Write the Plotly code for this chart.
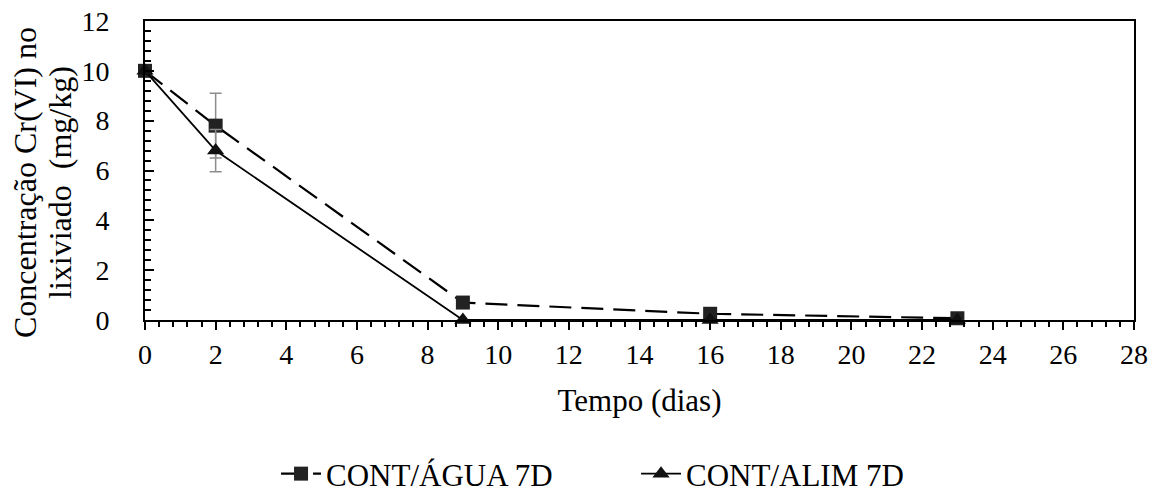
import plotly.graph_objects as go

days = [0, 2, 9, 16, 23]
agua = [10, 7.8, 0.7, 0.25, 0.07]
agua_err_plus = [0, 1.3, 0, 0, 0]
agua_err_minus = [0, 1.3, 0, 0, 0]
alim = [10, 6.8, 0, 0, 0]
alim_err_plus = [0, 0.85, 0, 0, 0]
alim_err_minus = [0, 0.85, 0, 0, 0]

FONT = "Times New Roman, Liberation Serif, serif"
TICK_FS = 28
TITLE_FS = 31

fig = go.Figure()
fig.add_trace(go.Scatter(
    x=days, y=agua, name="CONT/ÁGUA 7D", mode="lines+markers",
    line=dict(color="black", width=2.2, dash="22px,10px"),
    marker=dict(symbol="square", size=14, color="#222222"),
    error_y=dict(type="data", symmetric=False, array=agua_err_plus, arrayminus=agua_err_minus,
                 color="#8c8c8c", thickness=1.5, width=6),
    cliponaxis=False, legend="legend",
))
fig.add_trace(go.Scatter(
    x=days, y=alim, name="CONT/ALIM 7D", mode="lines+markers",
    line=dict(color="black", width=1.8),
    marker=dict(symbol="triangle-up", size=15, color="#111111"),
    error_y=dict(type="data", symmetric=False, array=alim_err_plus, arrayminus=alim_err_minus,
                 color="#8c8c8c", thickness=1.5, width=6),
    cliponaxis=False, legend="legend2",
))

fig.update_layout(
    width=1162, height=496,
    margin=dict(l=145, r=28, t=21, b=176, autoexpand=False),
    paper_bgcolor="white", plot_bgcolor="white",
    font=dict(family=FONT, size=TICK_FS, color="black"),
    showlegend=True,
    legend=dict(orientation="h", x=0.1325, xanchor="left", y=-0.515, yanchor="middle",
                font=dict(family=FONT, size=TITLE_FS), itemwidth=40),
    legend2=dict(orientation="h", x=0.4965, xanchor="left", y=-0.515, yanchor="middle",
                 font=dict(family=FONT, size=TITLE_FS), itemwidth=40),
    xaxis=dict(
        range=[0, 28], dtick=2, tick0=0, showgrid=False, zeroline=False,
        showline=True, linecolor="black", linewidth=2, mirror=True,
        ticks="outside", ticklen=8, tickwidth=2, tickcolor="black",
        minor=dict(dtick=0.4, tick0=0, ticks="outside", ticklen=5, tickwidth=1.5, tickcolor="black"),
        title=dict(text="Tempo (dias)", font=dict(family=FONT, size=TITLE_FS), standoff=21),
        tickfont=dict(family=FONT, size=TICK_FS),
    ),
    yaxis=dict(
        range=[0, 12], dtick=2, tick0=0, showgrid=False, zeroline=False,
        showline=True, linecolor="black", linewidth=2, mirror=True,
        ticks="inside", ticklen=9, tickwidth=2, tickcolor="black",
        minor=dict(dtick=0.4, tick0=0, ticks="inside", ticklen=6, tickwidth=1.5, tickcolor="black"),
        ticklabelstandoff=28,
        tickfont=dict(family=FONT, size=TICK_FS),
    ),
    annotations=[
        dict(text="Concentração Cr(VI) no",
             xref="paper", yref="paper", x=(25 - 145) / 989, y=(320 - 183) / 299,
             xanchor="center", yanchor="middle", textangle=-90,
             showarrow=False, font=dict(family=FONT, size=32, color="black")),
        dict(text="lixiviado  (mg/kg)",
             xref="paper", yref="paper", x=(60 - 145) / 989, y=(320 - 183) / 299,
             xanchor="center", yanchor="middle", textangle=-90,
             showarrow=False, font=dict(family=FONT, size=32, color="black")),
    ],
)

fig.write_html("out.html")
